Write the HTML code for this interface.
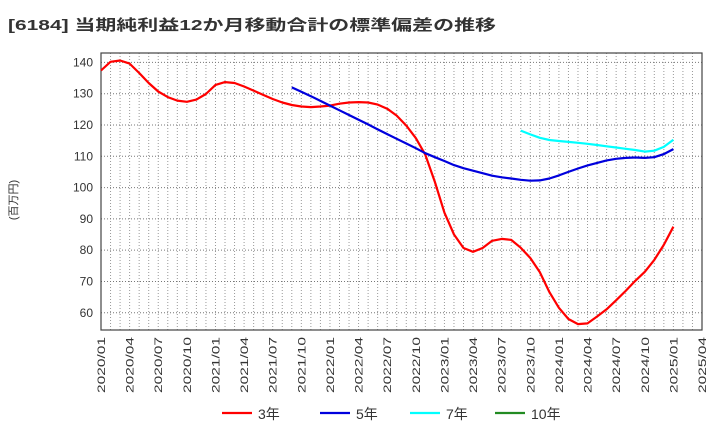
<!DOCTYPE html>
<html><head><meta charset="utf-8"><style>
body{margin:0;background:#fff;font-family:"Liberation Sans","Noto Sans CJK JP",sans-serif;}
svg text{font-family:"Liberation Sans","Noto Sans CJK JP",sans-serif;}
</style></head><body>
<svg id="chart" width="720" height="440" xmlns="http://www.w3.org/2000/svg">
<text x="8" y="30" font-size="15" font-weight="bold" fill="#333" textLength="488" lengthAdjust="spacingAndGlyphs">[6184]  当期純利益12か月移動合計の標準偏差の推移</text>
<text transform="translate(17,200) rotate(-90)" font-size="11" fill="#333" text-anchor="middle">(百万円)</text>
<g id="grid"></g><g id="axes"></g><g id="series"></g><g id="legend"></g>
</svg>
<script>
const xLabels=["2020/01","2020/04","2020/07","2020/10","2021/01","2021/04","2021/07","2021/10","2022/01","2022/04","2022/07","2022/10","2023/01","2023/04","2023/07","2023/10","2024/01","2024/04","2024/07","2024/10","2025/01","2025/04"];
const yTicks=[60,70,80,90,100,110,120,130,140];
const s3=[137.4,140.2,140.6,139.6,136.6,133.4,130.7,128.9,127.8,127.4,128.1,129.9,132.8,133.7,133.4,132.3,131,129.6,128.3,127.2,126.4,125.9,125.7,125.9,126.2,126.8,127.2,127.3,127.2,126.5,125.2,123,119.8,115.8,110.5,101.8,92,85,80.7,79.5,80.7,83,83.6,83.3,80.8,77.5,73,66.6,61.6,58,56.4,56.6,58.8,61.1,64,67,70.2,73.1,76.9,81.7,87.5];
const s5start=20;
const s5=[132,130.6,129.2,127.7,126.2,124.7,123.2,121.7,120.2,118.6,117.1,115.6,114.1,112.6,111,109.7,108.5,107.2,106.2,105.4,104.6,103.8,103.3,102.9,102.5,102.2,102.3,102.9,103.9,105,106.1,107.1,107.9,108.7,109.2,109.5,109.6,109.5,109.7,110.7,112.3];
const s7start=44;
const s7=[118.2,117,115.9,115.2,114.9,114.6,114.3,114,113.6,113.2,112.8,112.4,112,111.5,111.8,113,115.3];
const L=101,R=702,T=53,B=330,NM=63,YMIN=54.5,YMAX=143;
const xs=i=>L+(R-L)*i/NM, ys=v=>B-(v-YMIN)/(YMAX-YMIN)*(B-T);
const NS="http://www.w3.org/2000/svg";
function mk(t,a,p){const e=document.createElementNS(NS,t);for(const k in a)e.setAttribute(k,a[k]);p.appendChild(e);return e;}
const grid=document.getElementById('grid'),axes=document.getElementById('axes'),ser=document.getElementById('series'),leg=document.getElementById('legend');
for(let m=1;m<NM;m++){const l=mk('line',{x1:xs(m),x2:xs(m),y1:T,y2:B,stroke:'#999','stroke-dasharray':'1,2','stroke-width':1},grid);

}
yTicks.forEach(v=>{const l=mk('line',{x1:L,x2:R,y1:ys(v),y2:ys(v),stroke:'#777','stroke-dasharray':'1,2','stroke-width':1},grid);


const t=mk('text',{x:L-8,y:ys(v)+4,'font-size':12,fill:'#333','text-anchor':'end'},axes);t.textContent=v;

});
const fr=mk('rect',{x:L,y:T,width:R-L,height:B-T,fill:'none',stroke:'#444','stroke-width':1.2},axes);


xLabels.forEach((s,k)=>{const x=xs(k*3);const t=mk('text',{transform:`translate(${x+4},337) rotate(-90)`,'font-size':11,fill:'#333','text-anchor':'end',textLength:56,lengthAdjust:'spacingAndGlyphs'},axes);t.textContent=s;

});
function line(arr,start,col,name){const d=arr.map((v,i)=>(i?'L':'M')+xs(start+i).toFixed(1)+','+ys(v).toFixed(1)).join('');
const p=mk('path',{d:d,fill:'none',stroke:col,'stroke-width':2.2,'stroke-linejoin':'round'},ser);

}
line(s3,0,'#ff0000','series-3y');line(s5,s5start,'#0000dd','series-5y');line(s7,s7start,'#00ffff','series-7y');
[['3年','#ff0000',222],['5年','#0000dd',320],['7年','#00ffff',410],['10年','#228b22',495]].forEach(([n,c,x])=>{
const g=mk('g',{},leg);


mk('line',{x1:x,x2:x+30,y1:413,y2:413,stroke:c,'stroke-width':2.2},g);
const t=mk('text',{x:x+36,y:419,'font-size':14,fill:'#333'},g);t.textContent=n;});
</script>
</body></html>
